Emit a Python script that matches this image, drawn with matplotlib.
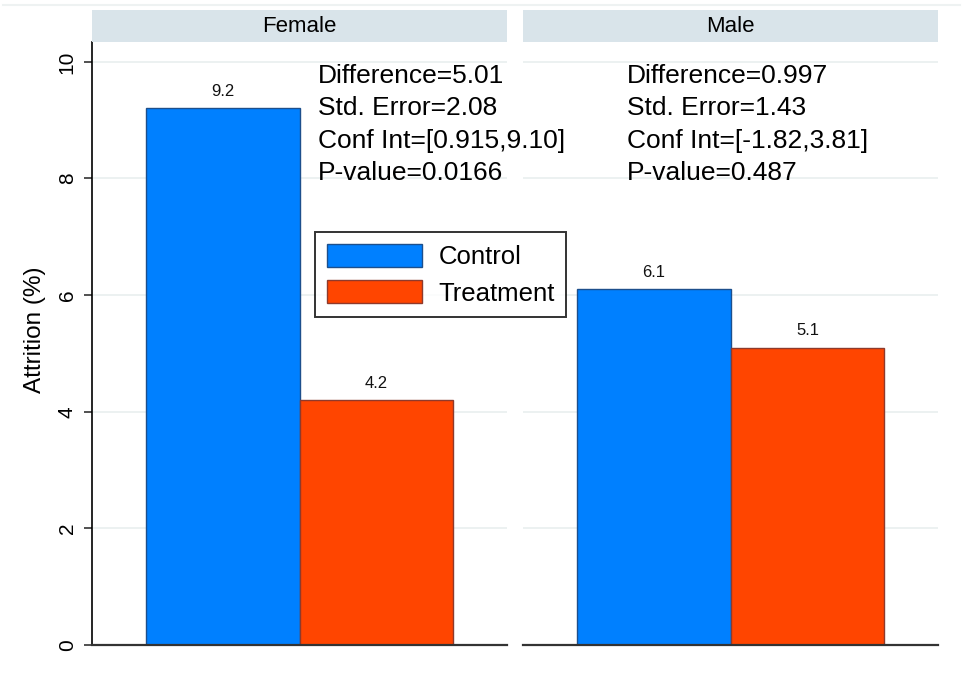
import numpy as np
import matplotlib
matplotlib.use("Agg")
import matplotlib.pyplot as plt
from matplotlib.patches import Patch
from matplotlib.lines import Line2D

plt.rcParams['font.family'] = ['Liberation Sans', 'DejaVu Sans']

# attrition by group, one panel per sex
panels = ['Female', 'Male']
groups = ['Control', 'Treatment']
attrition = {'Female': [9.2, 4.2], 'Male': [6.1, 5.1]}
bar_labels = {'Female': ['9.2', '4.2'], 'Male': ['6.1', '5.1']}

stats = {
    'Female': ['Difference=5.01', 'Std. Error=2.08',
               'Conf Int=[0.915,9.10]', 'P-value=0.0166'],
    'Male': ['Difference=0.997', 'Std. Error=1.43',
             'Conf Int=[-1.82,3.81]', 'P-value=0.487'],
}
y_ticks = [0, 2, 4, 6, 8, 10]

fill = ['#0080ff', '#ff4500']
edge = ['#1d4f8c', '#8e3a2c']

W, H = 966, 677
fig = plt.figure(figsize=(9.66, 6.77), dpi=100)

# faint frame line along the top
fig.add_artist(Line2D([3 / W, 960 / W], [1 - 5 / H, 1 - 5 / H],
                      transform=fig.transFigure, color='#eef2f2', lw=1.5))

panel_left = {'Female': 92, 'Male': 523}
panel_w = 415
ax_bottom = 1 - 645 / H
ax_h = (645 - 42) / H
strip_bottom = 1 - 42 / H
strip_h = 32 / H

bar_w = 0.371
xs = [0.5 - bar_w / 2, 0.5 + bar_w / 2]
text_x = {'Female': 0.5446, 'Male': 0.251}
text_y = [9.75, 9.2, 8.64, 8.1]

for name in panels:
    left = panel_left[name] / W
    ax = fig.add_axes([left, ax_bottom, panel_w / W, ax_h])
    ax.set_facecolor('none')
    ax.set_xlim(0, 1)
    ax.set_ylim(0, 10.34)

    for yv in y_ticks[1:]:
        ax.axhline(yv, color='#eaf0f0', lw=1.3, zorder=0)

    vals = attrition[name]
    for i in range(len(groups)):
        ax.bar(xs[i], vals[i], width=bar_w, color=fill[i], edgecolor=edge[i],
               linewidth=1.0, zorder=2)
        ax.annotate(bar_labels[name][i], (xs[i], vals[i]), xytext=(0, 12),
                    textcoords='offset points', ha='center', va='center',
                    fontsize=12, color='#111111')

    for line, yv in zip(stats[name], text_y):
        ax.text(text_x[name], yv, line, fontsize=19, ha='left', va='center',
                color='black', zorder=5, clip_on=False)

    ax.set_xticks([])
    for s in ['top', 'right']:
        ax.spines[s].set_visible(False)
    ax.spines['bottom'].set_color('#333333')
    ax.spines['bottom'].set_linewidth(1.6)
    if name == 'Female':
        ax.spines['left'].set_color('black')
        ax.spines['left'].set_linewidth(1.2)
        ax.set_yticks(y_ticks)
        ax.set_yticklabels([str(t) for t in y_ticks], rotation=90,
                           va='center', fontsize=15)
        ax.tick_params(axis='y', length=6, width=1.2, color='#333333', pad=5)
    else:
        ax.spines['left'].set_visible(False)
        ax.set_yticks([])

    # panel header strip
    sax = fig.add_axes([left, strip_bottom, panel_w / W, strip_h])
    sax.set_facecolor('#d9e4ea')
    sax.set_xticks([])
    sax.set_yticks([])
    for s in sax.spines.values():
        s.set_visible(False)
    sax.text(0.5, 0.5, name, ha='center', va='center', fontsize=16,
             transform=sax.transAxes)

fig.text(35 / W, 1 - 330 / H, 'Attrition (%)', rotation=90, ha='center',
         va='center', fontsize=17.5)

handles = [Patch(facecolor=fill[i], edgecolor=edge[i], label=groups[i])
           for i in range(len(groups))]
leg = fig.legend(handles=handles, loc='upper left',
                 bbox_to_anchor=(315 / W, 1 - 232 / H), fontsize=18.5,
                 frameon=True, fancybox=False, borderaxespad=0,
                 handlelength=3.7, handleheight=1.0, handletextpad=0.65,
                 labelspacing=0.45, borderpad=0.45)
leg.get_frame().set_edgecolor('black')
leg.get_frame().set_linewidth(1.4)

fig.savefig('out.png', dpi=100, facecolor='white')
